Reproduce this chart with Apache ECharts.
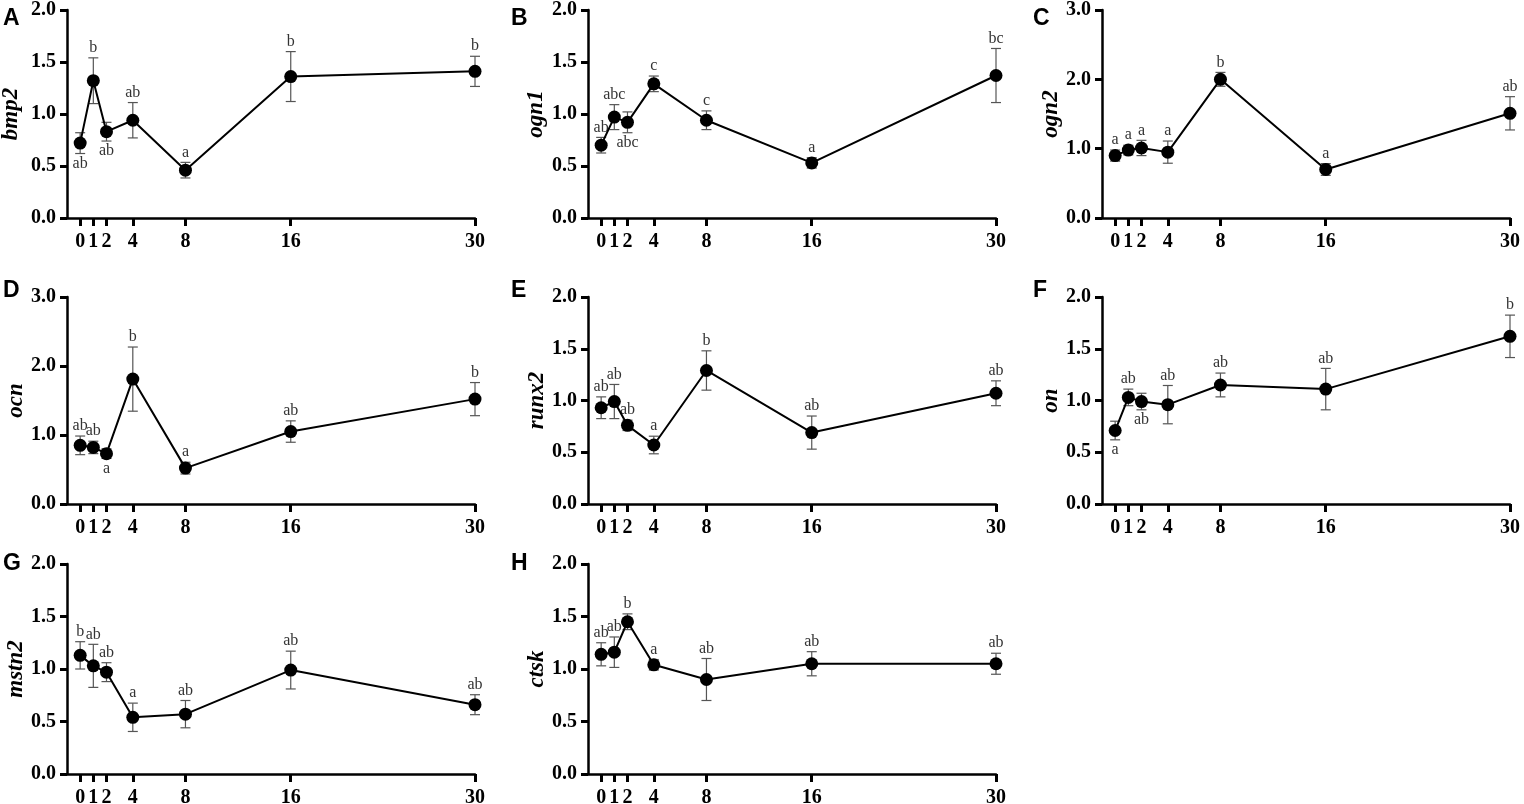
<!DOCTYPE html>
<html>
<head>
<meta charset="utf-8">
<title>Gene expression time course</title>
<script src="https://cdn.jsdelivr.net/npm/echarts@6.0.0/dist/echarts.min.js"></script>
<style>
  html, body { margin: 0; padding: 0; background: #fff; }
  #chart { width: 1524px; height: 804px; }
</style>
</head>
<body>
<div id="chart"></div>
<script>
// sampling days (x axis)
const days = [0, 1, 2, 4, 8, 16, 30];
const dayTicks = [0, 1, 2, 4, 8, 16, 30];

const genes = ['bmp2', 'ogn1', 'ogn2', 'ocn', 'runx2', 'on', 'mstn2', 'ctsk'];
const panelTags = ['A', 'B', 'C', 'D', 'E', 'F', 'G', 'H'];
const yMaxes = [2, 2, 3, 3, 2, 2, 2, 2];
const yIntervals = [0.5, 0.5, 1, 1, 0.5, 0.5, 0.5, 0.5];

// mean relative expression, error (SE) and significance letters
// below: 1 = letter printed under the error bar
const bmp2Mean = [0.72, 1.32, 0.83, 0.94, 0.46, 1.36, 1.41];
const bmp2Err = [0.10, 0.22, 0.09, 0.17, 0.075, 0.24, 0.145];
const bmp2Sig = ['ab', 'b', 'ab', 'ab', 'a', 'b', 'b'];
const bmp2Below = [1, 0, 1, 0, 0, 0, 0];

const ogn1Mean = [0.70, 0.97, 0.92, 1.29, 0.94, 0.53, 1.37];
const ogn1Err = [0.075, 0.12, 0.10, 0.075, 0.09, 0.05, 0.26];
const ogn1Sig = ['ab', 'abc', 'abc', 'c', 'c', 'a', 'bc'];
const ogn1Below = [0, 0, 1, 0, 0, 0, 0];

const ogn2Mean = [0.90, 0.98, 1.01, 0.95, 2.00, 0.70, 1.51];
const ogn2Err = [0.08, 0.07, 0.11, 0.16, 0.10, 0.085, 0.24];
const ogn2Sig = ['a', 'a', 'a', 'a', 'b', 'a', 'ab'];
const ogn2Below = [0, 0, 0, 0, 0, 0, 0];

const ocnMean = [0.85, 0.82, 0.73, 1.81, 0.52, 1.05, 1.52];
const ocnErr = [0.135, 0.09, 0.07, 0.465, 0.085, 0.155, 0.24];
const ocnSig = ['ab', 'ab', 'a', 'b', 'a', 'ab', 'b'];
const ocnBelow = [0, 0, 1, 0, 0, 0, 0];

const runx2Mean = [0.93, 0.99, 0.76, 0.57, 1.29, 0.69, 1.07];
const runx2Err = [0.105, 0.165, 0.05, 0.085, 0.19, 0.16, 0.12];
const runx2Sig = ['ab', 'ab', 'ab', 'a', 'b', 'ab', 'ab'];
const runx2Below = [0, 0, 0, 0, 0, 0, 0];

const onMean = [0.71, 1.03, 0.99, 0.96, 1.15, 1.11, 1.62];
const onErr = [0.09, 0.08, 0.08, 0.185, 0.115, 0.20, 0.205];
const onSig = ['a', 'ab', 'ab', 'ab', 'ab', 'ab', 'b'];
const onBelow = [1, 0, 1, 0, 0, 0, 0];

const mstn2Mean = [1.13, 1.03, 0.97, 0.54, 0.57, 0.99, 0.66];
const mstn2Err = [0.13, 0.205, 0.09, 0.135, 0.13, 0.18, 0.095];
const mstn2Sig = ['b', 'ab', 'ab', 'a', 'ab', 'ab', 'ab'];
const mstn2Below = [0, 0, 0, 0, 0, 0, 0];

const ctskMean = [1.14, 1.16, 1.45, 1.04, 0.90, 1.05, 1.05];
const ctskErr = [0.11, 0.145, 0.075, 0.05, 0.20, 0.115, 0.10];
const ctskSig = ['ab', 'ab', 'b', 'a', 'ab', 'ab', 'ab'];
const ctskBelow = [0, 0, 0, 0, 0, 0, 0];

const means = [bmp2Mean, ogn1Mean, ogn2Mean, ocnMean, runx2Mean, onMean, mstn2Mean, ctskMean];
const errs = [bmp2Err, ogn1Err, ogn2Err, ocnErr, runx2Err, onErr, mstn2Err, ctskErr];
const sigs = [bmp2Sig, ogn1Sig, ogn2Sig, ocnSig, runx2Sig, onSig, mstn2Sig, ctskSig];
const belows = [bmp2Below, ogn1Below, ogn2Below, ocnBelow, runx2Below, onBelow, mstn2Below, ctskBelow];

// layout of the 3x3 panel grid (pixels)
const colLeft = [67, 588, 1102];
const colRight = [1049, 528, 14];
const rowTop = [10, 297, 564];
const rowBottom = [586, 300, 30];
const nameGaps = [44, 40, 38, 36, 38, 38, 37, 38];

const serif = '"Liberation Serif", "Times New Roman", serif';

const chart = echarts.init(document.getElementById('chart'));

const grid = [], xAxis = [], yAxis = [], series = [], graphic = [];

genes.forEach((gene, i) => {
  const col = i % 3, row = Math.floor(i / 3);
  grid.push({
    left: colLeft[col], right: colRight[col],
    top: rowTop[row], bottom: rowBottom[row],
    outerBoundsMode: 'none'
  });
  xAxis.push({
    type: 'value', gridIndex: i, min: -1, max: 30,
    splitLine: { show: false },
    axisLine: { lineStyle: { color: '#000', width: 2.5 } },
    axisTick: { customValues: dayTicks, length: 8, lineStyle: { color: '#000', width: 3 } },
    axisLabel: {
      customValues: dayTicks, margin: 14,
      color: '#000', fontFamily: serif, fontWeight: 'bold', fontSize: 20
    }
  });
  yAxis.push({
    type: 'value', gridIndex: i, min: 0, max: yMaxes[i], interval: yIntervals[i],
    name: gene, nameLocation: 'middle', nameGap: nameGaps[i],
    nameTextStyle: { color: '#000', fontFamily: serif, fontWeight: 'bold', fontStyle: 'italic', fontSize: 23 },
    splitLine: { show: false },
    axisLine: { show: true, onZero: false, lineStyle: { color: '#000', width: 2.5 } },
    axisTick: { show: true, length: 7, lineStyle: { color: '#000', width: 3 } },
    axisLabel: {
      margin: 11, color: '#000', fontFamily: serif, fontWeight: 'bold', fontSize: 20,
      formatter: v => v.toFixed(1)
    }
  });

  const barData = days.map((d, k) => [d, means[i][k], errs[i][k], sigs[i][k], belows[i][k]]);
  series.push({
    type: 'custom', xAxisIndex: i, yAxisIndex: i, z: 1,
    data: barData,
    renderItem: (params, api) => {
      const x = api.value(0), y = api.value(1), e = api.value(2);
      const top = api.coord([x, y + e]);
      const bot = api.coord([x, y - e]);
      const cap = 5;
      const ls = { stroke: '#555', lineWidth: 1.2 };
      const item = barData[params.dataIndex];
      const below = item[4] === 1;
      return {
        type: 'group',
        children: [
          { type: 'line', shape: { x1: top[0], y1: top[1], x2: bot[0], y2: bot[1] }, style: ls },
          { type: 'line', shape: { x1: top[0] - cap, y1: top[1], x2: top[0] + cap, y2: top[1] }, style: ls },
          { type: 'line', shape: { x1: bot[0] - cap, y1: bot[1], x2: bot[0] + cap, y2: bot[1] }, style: ls },
          {
            type: 'text',
            style: {
              text: item[3],
              x: top[0],
              y: below ? bot[1] + 2 : top[1] - 2,
              align: 'center',
              verticalAlign: below ? 'top' : 'bottom',
              font: '16px ' + serif,
              fill: '#333'
            }
          }
        ]
      };
    }
  });
  series.push({
    type: 'line', xAxisIndex: i, yAxisIndex: i, z: 3,
    data: days.map((d, k) => [d, means[i][k]]),
    symbol: 'circle', symbolSize: 13,
    lineStyle: { color: '#000', width: 2 },
    itemStyle: { color: '#000' },
    animation: false
  });

  graphic.push({
    type: 'text',
    left: [3, 511, 1033][col],
    top: [7, 279, 552][row],
    style: {
      text: panelTags[i],
      font: 'bold 23px "Liberation Sans", Arial, sans-serif',
      fill: '#000'
    }
  });
});

chart.setOption({
  animation: false,
  backgroundColor: '#fff',
  grid, xAxis, yAxis, series, graphic
});
</script>
</body>
</html>
